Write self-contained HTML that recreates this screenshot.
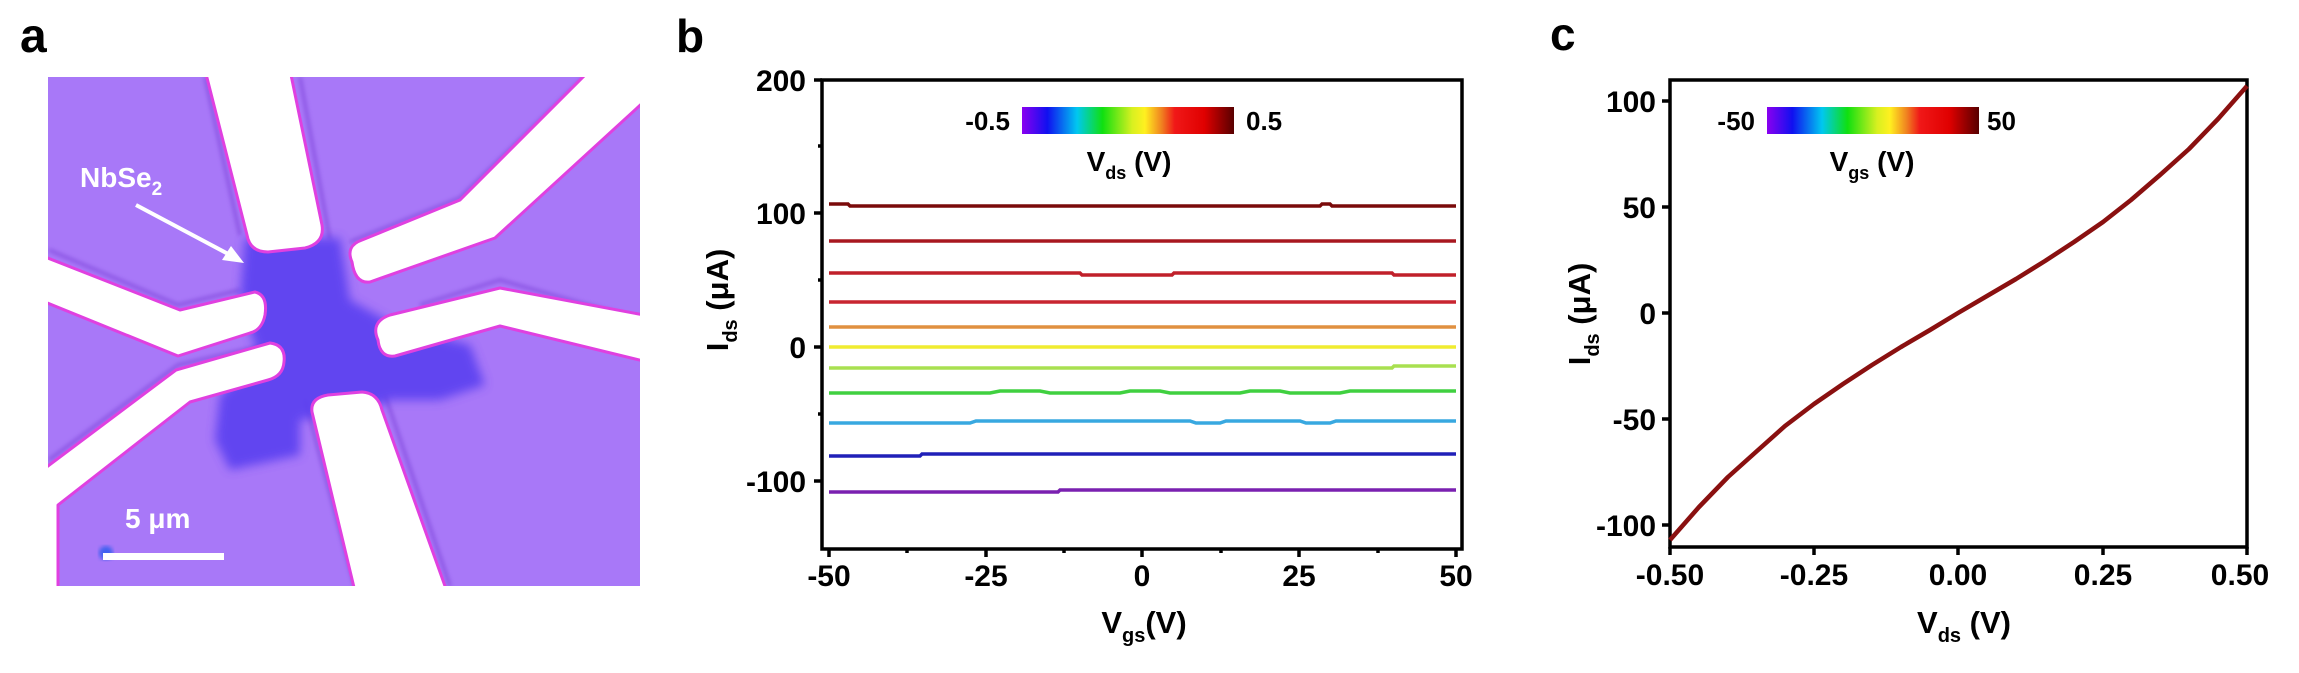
<!DOCTYPE html>
<html><head><meta charset="utf-8"><style>
html,body{margin:0;padding:0;background:#fff;}
svg{display:block;font-family:"Liberation Sans",Arial,sans-serif;font-weight:bold;}
</style></head><body>
<svg width="2299" height="673" viewBox="0 0 2299 673" xmlns="http://www.w3.org/2000/svg">
<defs>
<linearGradient id="cb" x1="0" x2="1" y1="0" y2="0">
<stop offset="0" stop-color="#8a00f0"/>
<stop offset="0.12" stop-color="#1010f0"/>
<stop offset="0.26" stop-color="#00c8f0"/>
<stop offset="0.38" stop-color="#10e010"/>
<stop offset="0.52" stop-color="#d8f020"/>
<stop offset="0.58" stop-color="#fff020"/>
<stop offset="0.66" stop-color="#f08020"/>
<stop offset="0.72" stop-color="#f01818"/>
<stop offset="0.86" stop-color="#e00000"/>
<stop offset="1" stop-color="#580000"/>
</linearGradient>
<clipPath id="ca"><rect x="48" y="77" width="592" height="509"/></clipPath>
<filter id="bl"><feGaussianBlur stdDeviation="2"/></filter>
<filter id="bl2"><feGaussianBlur stdDeviation="5"/></filter>
</defs>

<!-- Panel a -->
<text x="20" y="52" font-size="48">a</text>
<g clip-path="url(#ca)">
<rect x="48" y="77" width="592" height="509" fill="#a878f8"/>
<g fill="none" stroke="#8650e0" stroke-width="3" filter="url(#bl)">
<polyline points="49,250 178,305 240,290"/>
<polyline points="205,77 240,235"/>
<polyline points="300,77 330,240"/>
<polyline points="350,242 460,198 585,77"/>
<polyline points="640,320 500,280 420,305"/>
<polyline points="49,460 178,365 265,345"/>
<polyline points="305,400 355,586"/>
<polyline points="385,395 450,586"/>
</g>
<g fill="#5a40f0" filter="url(#bl2)" opacity="0.9">
<path d="M245,238 L340,238 L350,300 L395,325 L470,345 L485,385 L440,400 L390,400 L370,410 L300,420 L300,455 L230,470 L215,440 L220,395 L260,360 L240,300 Z"/>
</g>
<g fill="#ffffff" stroke="#e040e0" stroke-width="3" stroke-linejoin="round">
<path d="M205,70 L290,70 L322,225 Q325,243 305,248 L268,252 Q250,252 247,235 Z"/>
<path d="M352,262 Q345,246 362,240 L460,200 L590,70 L660,70 L660,95 L648,98 L495,238 L370,282 Q355,284 352,262 Z"/>
<path d="M378,340 Q370,322 390,315 L500,288 L660,318 L660,365 L500,326 L395,356 Q380,358 378,340 Z"/>
<path d="M40,255 L180,310 L255,292 Q268,295 265,315 Q262,330 250,333 L178,356 L40,300 Z"/>
<path d="M270,343 Q286,345 284,362 Q283,376 268,380 L190,402 L58,505 L58,600 L40,600 L40,472 L176,370 Z"/>
<path d="M312,412 Q310,398 328,395 L362,392 Q378,393 382,410 L450,600 L357,600 Z"/>
</g>
<circle cx="106" cy="553" r="7" fill="#4060f0" filter="url(#bl)"/>
<rect x="103" y="553" width="121" height="7" fill="#ffffff"/>
<text x="125" y="528" font-size="28" fill="#ffffff">5 μm</text>
<text x="80" y="187" font-size="28" fill="#ffffff">NbSe<tspan font-size="19" dy="8">2</tspan></text>
<line x1="136" y1="205" x2="232" y2="256" stroke="#fff" stroke-width="4"/>
<polygon points="244,263 222,260 231,246" fill="#fff"/>
</g>

<!-- Panel b -->
<text x="676" y="52" font-size="46">b</text>
<g stroke="#000" stroke-width="3.5" fill="none">
<rect x="822" y="80" width="640" height="469"/>
<line x1="814" y1="80" x2="822" y2="80"/>
<line x1="814" y1="213" x2="822" y2="213"/>
<line x1="814" y1="347" x2="822" y2="347"/>
<line x1="814" y1="481" x2="822" y2="481"/>
<line x1="818" y1="146" x2="822" y2="146"/>
<line x1="818" y1="280" x2="822" y2="280"/>
<line x1="818" y1="414" x2="822" y2="414"/>
<line x1="829" y1="549" x2="829" y2="557"/>
<line x1="986" y1="549" x2="986" y2="557"/>
<line x1="1142" y1="549" x2="1142" y2="557"/>
<line x1="1299" y1="549" x2="1299" y2="557"/>
<line x1="1456" y1="549" x2="1456" y2="557"/>
<line x1="907" y1="549" x2="907" y2="553"/>
<line x1="1064" y1="549" x2="1064" y2="553"/>
<line x1="1221" y1="549" x2="1221" y2="553"/>
<line x1="1378" y1="549" x2="1378" y2="553"/>
</g>
<g font-size="30" text-anchor="end">
<text x="806" y="91">200</text>
<text x="806" y="224">100</text>
<text x="806" y="358">0</text>
<text x="806" y="492">-100</text>
</g>
<g font-size="30" text-anchor="middle">
<text x="829" y="586">-50</text>
<text x="986" y="586">-25</text>
<text x="1142" y="586">0</text>
<text x="1299" y="586">25</text>
<text x="1456" y="586">50</text>
</g>
<text x="1144" y="633" font-size="31" text-anchor="middle">V<tspan font-size="20" dy="9">gs</tspan><tspan dy="-9">(V)</tspan></text>
<text transform="translate(728,300) rotate(-90)" font-size="31" text-anchor="middle">I<tspan font-size="20" dy="9">ds</tspan><tspan dy="-9"> (μA)</tspan></text>
<g stroke-width="3.5" fill="none">
<path d="M829,204 L848,204 L850,206 L1320,206 L1322,204 L1330,204 L1332,206 L1456,206" stroke="#7a0a0a"/>
<line x1="829" y1="241" x2="1456" y2="241" stroke="#a81820"/>
<path d="M829,273 L1080,273 L1082,275 L1172,275 L1174,273 L1392,273 L1394,275 L1456,275" stroke="#c0202a"/>
<line x1="829" y1="302" x2="1456" y2="302" stroke="#c82530"/>
<line x1="829" y1="327" x2="1456" y2="327" stroke="#e09040"/>
<line x1="829" y1="347" x2="1456" y2="347" stroke="#f0ec30"/>
<path d="M829,368 L1392,368 L1394,366 L1456,366" stroke="#a8e050"/>
<path d="M829,393 L990,393 L1000,391 L1040,391 L1050,393 L1120,393 L1130,391 L1160,391 L1170,393 L1240,393 L1250,391 L1280,391 L1290,393 L1340,393 L1350,391 L1456,391" stroke="#40d040"/>
<path d="M829,423 L970,423 L976,421 L1190,421 L1196,423 L1220,423 L1226,421 L1300,421 L1306,423 L1330,423 L1336,421 L1456,421" stroke="#38a8e0"/>
<path d="M829,456 L920,456 L922,454 L1456,454" stroke="#2020b8"/>
<path d="M829,492 L1058,492 L1060,490 L1456,490" stroke="#7a20b0"/>
</g>
<rect x="1022" y="107" width="212" height="27" fill="url(#cb)"/>
<text x="1010" y="130" font-size="26" text-anchor="end">-0.5</text>
<text x="1246" y="130" font-size="26">0.5</text>
<text x="1129" y="171" font-size="28" text-anchor="middle">V<tspan font-size="18" dy="8">ds</tspan><tspan dy="-8"> (V)</tspan></text>

<!-- Panel c -->
<text x="1550" y="50" font-size="46">c</text>
<g stroke="#000" stroke-width="3.5" fill="none">
<rect x="1670" y="80" width="577" height="467"/>
<line x1="1662" y1="101" x2="1670" y2="101"/>
<line x1="1662" y1="207" x2="1670" y2="207"/>
<line x1="1662" y1="313" x2="1670" y2="313"/>
<line x1="1662" y1="419" x2="1670" y2="419"/>
<line x1="1662" y1="525" x2="1670" y2="525"/>
<line x1="1670" y1="547" x2="1670" y2="555"/>
<line x1="1814" y1="547" x2="1814" y2="555"/>
<line x1="1958" y1="547" x2="1958" y2="555"/>
<line x1="2103" y1="547" x2="2103" y2="555"/>
<line x1="2247" y1="547" x2="2247" y2="555"/>
</g>
<g font-size="30" text-anchor="end">
<text x="1656" y="112">100</text>
<text x="1656" y="218">50</text>
<text x="1656" y="324">0</text>
<text x="1656" y="430">-50</text>
<text x="1656" y="536">-100</text>
</g>
<g font-size="30" text-anchor="middle">
<text x="1670" y="585">-0.50</text>
<text x="1814" y="585">-0.25</text>
<text x="1958" y="585">0.00</text>
<text x="2103" y="585">0.25</text>
<text x="2240" y="585">0.50</text>
</g>
<text x="1964" y="633" font-size="31" text-anchor="middle">V<tspan font-size="20" dy="9">ds</tspan><tspan dy="-9"> (V)</tspan></text>
<text transform="translate(1590,314) rotate(-90)" font-size="31" text-anchor="middle">I<tspan font-size="20" dy="9">ds</tspan><tspan dy="-9"> (μA)</tspan></text>
<polyline fill="none" stroke="#8a1010" stroke-width="4.5" stroke-linejoin="round" points="1670,540 1699,507 1728,477 1757,451 1785,426 1814,404 1843,384 1872,365 1901,347 1930,330 1958,313 1987,296 2016,279 2045,261 2074,242 2103,222 2131,200 2160,175 2189,149 2218,119 2247,86"/>
<rect x="1767" y="107" width="212" height="27" fill="url(#cb)"/>
<text x="1755" y="130" font-size="26" text-anchor="end">-50</text>
<text x="1987" y="130" font-size="26">50</text>
<text x="1872" y="171" font-size="28" text-anchor="middle">V<tspan font-size="18" dy="8">gs</tspan><tspan dy="-8"> (V)</tspan></text>
</svg>
</body></html>
